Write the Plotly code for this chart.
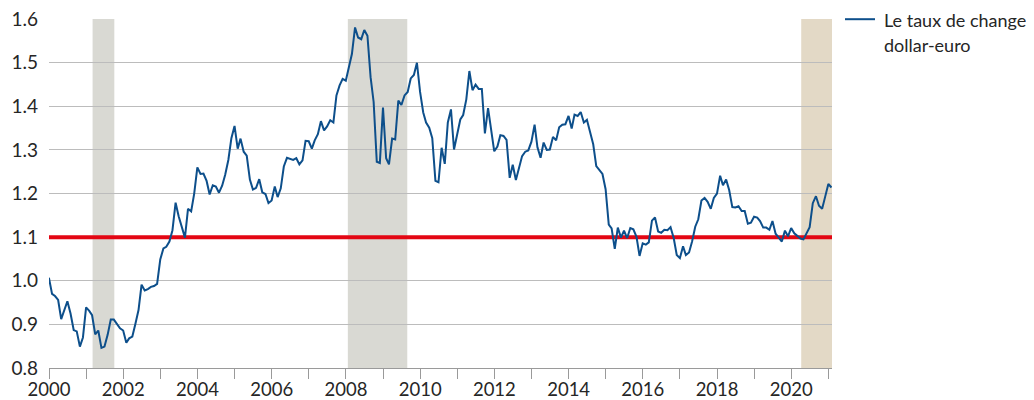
import pandas as pd
import plotly.graph_objects as go

# Month-end EUR/USD exchange rate, starting with December 1999
start_date = "1999-12-31"
rate_1999 = [1.007]
rate_2000 = [0.970, 0.965, 0.956, 0.912, 0.933, 0.953, 0.925, 0.887, 0.884, 0.849, 0.870, 0.939]
rate_2001 = [0.931, 0.921, 0.877, 0.886, 0.846, 0.849, 0.876, 0.911, 0.911, 0.901, 0.891, 0.886]
rate_2002 = [0.858, 0.868, 0.872, 0.901, 0.933, 0.991, 0.978, 0.981, 0.986, 0.988, 0.993, 1.049]
rate_2003 = [1.074, 1.078, 1.090, 1.116, 1.179, 1.148, 1.125, 1.099, 1.165, 1.159, 1.200, 1.260]
rate_2004 = [1.245, 1.246, 1.229, 1.198, 1.219, 1.216, 1.202, 1.218, 1.243, 1.277, 1.327, 1.355]
rate_2005 = [1.303, 1.326, 1.296, 1.287, 1.232, 1.209, 1.213, 1.233, 1.203, 1.199, 1.178, 1.184]
rate_2006 = [1.216, 1.192, 1.212, 1.262, 1.282, 1.279, 1.277, 1.281, 1.267, 1.276, 1.321, 1.320]
rate_2007 = [1.303, 1.322, 1.336, 1.366, 1.345, 1.354, 1.368, 1.363, 1.425, 1.448, 1.463, 1.459]
rate_2008 = [1.487, 1.520, 1.581, 1.558, 1.554, 1.575, 1.562, 1.467, 1.410, 1.273, 1.270, 1.397]
rate_2009 = [1.281, 1.267, 1.326, 1.324, 1.413, 1.403, 1.425, 1.433, 1.464, 1.472, 1.500, 1.433]
rate_2010 = [1.386, 1.363, 1.351, 1.327, 1.229, 1.226, 1.305, 1.268, 1.363, 1.393, 1.301, 1.338]
rate_2011 = [1.370, 1.380, 1.416, 1.481, 1.437, 1.450, 1.440, 1.440, 1.338, 1.396, 1.345, 1.297]
rate_2012 = [1.308, 1.334, 1.332, 1.323, 1.236, 1.266, 1.231, 1.260, 1.286, 1.296, 1.299, 1.319]
rate_2013 = [1.358, 1.306, 1.282, 1.317, 1.300, 1.301, 1.330, 1.322, 1.352, 1.358, 1.359, 1.378]
rate_2014 = [1.349, 1.381, 1.378, 1.387, 1.363, 1.369, 1.339, 1.313, 1.263, 1.253, 1.245, 1.210]
rate_2015 = [1.129, 1.120, 1.073, 1.122, 1.099, 1.115, 1.098, 1.121, 1.118, 1.101, 1.057, 1.086]
rate_2016 = [1.083, 1.088, 1.138, 1.145, 1.113, 1.110, 1.117, 1.116, 1.123, 1.098, 1.059, 1.052]
rate_2017 = [1.079, 1.059, 1.065, 1.090, 1.124, 1.141, 1.184, 1.190, 1.181, 1.165, 1.190, 1.200]
rate_2018 = [1.241, 1.219, 1.232, 1.208, 1.169, 1.168, 1.171, 1.160, 1.160, 1.131, 1.133, 1.147]
rate_2019 = [1.145, 1.137, 1.122, 1.122, 1.117, 1.137, 1.108, 1.099, 1.090, 1.115, 1.102, 1.121]
rate_2020 = [1.109, 1.103, 1.097, 1.095, 1.110, 1.123, 1.178, 1.194, 1.172, 1.165, 1.193, 1.222]
rate_2021 = [1.214]

reference_level = 1.1
legend_lines = ["Le taux de change", "dollar-euro"]

# Shaded periods (start, end)
recessions = [("2001-03-05", "2001-10-05"), ("2008-01-20", "2009-08-27")]
covid_period = ("2020-04-08", "2021-02-05")

x_range = ["2000-01-01", "2021-02-05"]
y_range = [0.8, 1.6003]
y_ticks = [0.8, 0.9, 1.0, 1.1, 1.2, 1.3, 1.4, 1.5, 1.6]
y_ticklabels = ["0.8", "0.9", "1.0", "1.1", "1.2", "1.3", "1.4", "1.5", "1.6"]

rates = (rate_1999 + rate_2000 + rate_2001 + rate_2002 + rate_2003 + rate_2004 + rate_2005
         + rate_2006 + rate_2007 + rate_2008 + rate_2009 + rate_2010 + rate_2011 + rate_2012
         + rate_2013 + rate_2014 + rate_2015 + rate_2016 + rate_2017 + rate_2018 + rate_2019
         + rate_2020 + rate_2021)
dates = pd.date_range(start=start_date, periods=len(rates), freq="ME")

FONT = "Lato"
TEXT = "#262626"
BLUE = "#0d4f8b"

# page body has an 8px margin, so the figure is a bit smaller than the window
OFF = 8
W, H = 1034 - OFF, 400 - OFF
ML, MR, MT, MB = 49 - OFF, 202, 19.3 - OFF, 32.3
PW, PH = W - ML - MR, H - MT - MB


def px_x(p):
    return (p - OFF - ML) / PW


def px_y(p):
    return 1 - (p - OFF - MT) / PH


fig = go.Figure()

fig.add_trace(go.Scatter(
    x=x_range, y=[reference_level, reference_level], mode="lines",
    line=dict(color="#e30613", width=4), showlegend=False, hoverinfo="skip", cliponaxis=False,
))

fig.add_trace(go.Scatter(
    x=dates, y=rates, mode="lines", name=" ".join(legend_lines),
    line=dict(color=BLUE, width=2), showlegend=False,
))

shapes = []
for s, e in recessions:
    shapes.append(dict(type="rect", xref="x", yref="paper", x0=s, x1=e, y0=0, y1=1,
                       fillcolor="#d9d9d3", line=dict(width=0), layer="below"))
shapes.append(dict(type="rect", xref="x", yref="paper", x0=covid_period[0], x1=covid_period[1],
                   y0=0, y1=1, fillcolor="#e3d9c6", line=dict(width=0), layer="below"))
# legend key
shapes.append(dict(type="line", xref="paper", yref="paper", x0=px_x(845), x1=px_x(875),
                   y0=px_y(19.5), y1=px_y(19.5), line=dict(color=BLUE, width=2)))

annotations = []
for i, txt in enumerate(legend_lines):
    annotations.append(dict(xref="paper", yref="paper", x=px_x(882), y=px_y(20.5 + 25 * i),
                            xanchor="left", yanchor="middle", text=txt, showarrow=False,
                            font=dict(family=FONT, size=18, color=TEXT)))

fig.update_layout(
    width=W, height=H,
    margin=dict(l=ML, r=MR, t=MT, b=MB, autoexpand=False),
    paper_bgcolor="white", plot_bgcolor="white",
    font=dict(family=FONT, size=19, color=TEXT),
    shapes=shapes, annotations=annotations,
    showlegend=False,
)

fig.update_xaxes(
    type="date", range=x_range, automargin=False,
    dtick="M24", tick0="2000-01-01", tickformat="%Y",
    ticks="outside", ticklen=10, tickcolor="#9a9a9a", tickwidth=1,
    minor=dict(dtick="M12", tick0="2000-01-01", ticks="outside", ticklen=10,
               tickcolor="#9a9a9a", tickwidth=1, showgrid=False),
    showline=True, linecolor="#9a9a9a", linewidth=1,
    showgrid=False, zeroline=False, ticklabelstandoff=-5,
    tickfont=dict(family=FONT, size=18.5, color=TEXT),
)

fig.update_yaxes(
    range=y_range, tickvals=y_ticks, ticktext=y_ticklabels, automargin=False,
    showgrid=True, gridcolor="#bcbcbc", gridwidth=1, ticklabeloverflow="allow",
    zeroline=False, showline=False, ticks="", ticklabelstandoff=10,
    tickfont=dict(family=FONT, size=19, color=TEXT),
)

fig.write_html("out.html")
